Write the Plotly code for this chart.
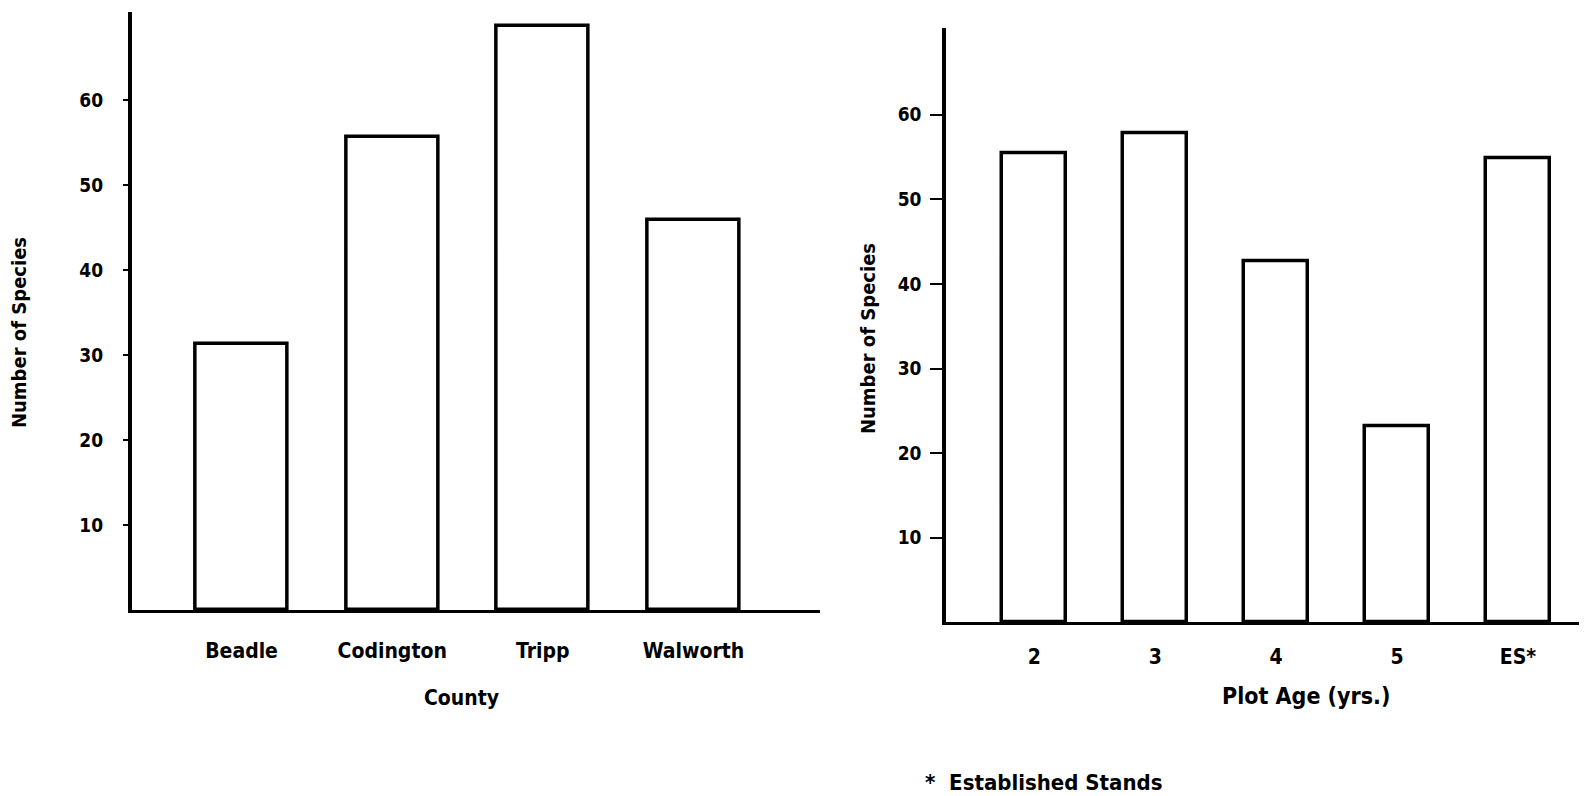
import plotly.graph_objects as go

counties = ["Beadle", "Codington", "Tripp", "Walworth"]
county_species = [31.3, 55.7, 68.8, 45.9]

plot_ages = ["2", "3", "4", "5", "ES*"]
age_species = [55.4, 57.8, 42.7, 23.2, 54.8]

y_ticks = [10, 20, 30, 40, 50, 60]

# page body has an 8px margin; figure fills the rest of the window
OFF = 8
W, H = 1587 - OFF, 796 - OFF
FONT = "DejaVu Sans Condensed"


def fx(p):
    return (p - OFF) / W


def fy(p):
    return 1 - (p - OFF) / H


fig = go.Figure()
fig.add_trace(go.Bar(x=counties, y=county_species, xaxis="x", yaxis="y",
                     width=0.61, marker=dict(color="white", line=dict(color="black", width=3.5)),
                     showlegend=False))
fig.add_trace(go.Bar(x=plot_ages, y=age_species, xaxis="x2", yaxis="y2",
                     width=0.53, marker=dict(color="white", line=dict(color="black", width=3.5)),
                     showlegend=False))

tickfont = dict(family=FONT, size=19, color="black", weight="bold")
cattickfont = dict(family=FONT, size=21, color="black", weight="bold")

fig.update_layout(
    width=W, height=H,
    margin=dict(l=0, r=0, t=0, b=0),
    paper_bgcolor="white", plot_bgcolor="white",
    font=dict(family=FONT, color="black"),
    xaxis=dict(domain=[fx(131.6), fx(820)], range=[-0.73, 3.84], type="category",
               showline=True, linecolor="black", linewidth=3, showgrid=False, zeroline=False,
               ticks="", tickfont=cattickfont, ticklabelstandoff=20, anchor="y"),
    yaxis=dict(domain=[fy(610), fy(12)], range=[0, 70.4],
               showline=True, linecolor="black", linewidth=3.5, showgrid=False, zeroline=False,
               tickvals=y_ticks, ticks="outside", ticklen=5, tickwidth=2, tickcolor="black",
               tickfont=tickfont, ticklabelstandoff=16, anchor="x"),
    xaxis2=dict(domain=[fx(946), 1.0], range=[-0.73, 4.57], type="category",
                showline=True, linecolor="black", linewidth=3, showgrid=False, zeroline=False,
                ticks="", tickfont=cattickfont, ticklabelstandoff=13, anchor="y2"),
    yaxis2=dict(domain=[fy(622.4), fy(28.3)], range=[0, 70.2],
                showline=True, linecolor="black", linewidth=3.5, showgrid=False, zeroline=False,
                tickvals=y_ticks, ticks="outside", ticklen=12, tickwidth=2, tickcolor="black",
                tickfont=tickfont, ticklabelstandoff=5, anchor="x2"),
    bargap=0,
)

annots = [
    dict(text="County", x=461, y=698, size=21),
    dict(text="Plot Age (yrs.)", x=1306, y=696, size=23),
]
for a in annots:
    fig.add_annotation(text=a["text"], x=fx(a["x"]), y=fy(a["y"]), xref="paper", yref="paper",
                       showarrow=False, xanchor="center", yanchor="middle",
                       font=dict(family=FONT, size=a["size"], color="black", weight="bold"))

fig.add_annotation(text="*  Established Stands", x=fx(923), y=fy(782), xref="paper", yref="paper",
                   showarrow=False, xanchor="left", yanchor="middle",
                   font=dict(family=FONT, size=22, color="black", weight="bold"))

for xpx, ypx in [(19, 333), (868, 339)]:
    fig.add_annotation(text="Number of Species", x=fx(xpx), y=fy(ypx), xref="paper", yref="paper",
                       showarrow=False, textangle=-90, xanchor="center", yanchor="middle",
                       font=dict(family=FONT, size=20, color="black", weight="bold"))

fig.write_html("out.html")
